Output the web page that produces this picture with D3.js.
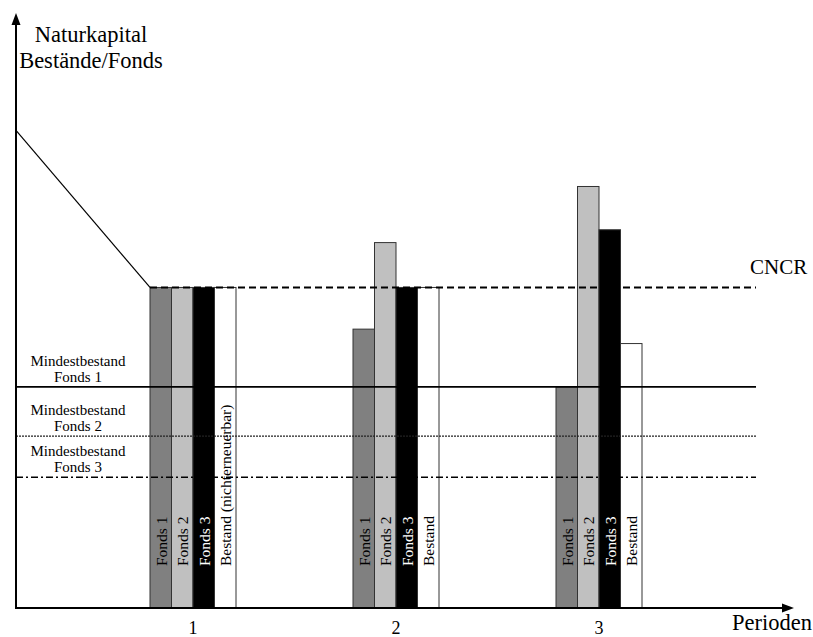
<!DOCTYPE html>
<html>
<head>
<meta charset="utf-8">
<script src="https://cdn.jsdelivr.net/npm/d3@7"></script>
<style>
  body { margin: 0; background: #fff; }
  text { font-family: "Liberation Serif", "Times New Roman", serif; }
</style>
</head>
<body>
<div id="chart"></div>
<script>
// Data (relative units, CNCR = 100)
const periods = [1, 2, 3];
const series = ["Fonds 1", "Fonds 2", "Fonds 3", "Bestand"];
const fonds1 = [100, 87, 69];
const fonds2 = [100, 114, 131.5];
const fonds3 = [100, 100, 118];
const bestand = [100, 100, 82.5];
const cncr = 100;
const startLevel = 149;
const minLabels = ["Fonds 1", "Fonds 2", "Fonds 3"];
const minLevels = [69, 53.6, 40.8];

const W = 813, H = 637;
const svg = d3.select("#chart").append("svg")
    .attr("width", W).attr("height", H);

const x0 = 16, base = 608;
const x = d3.scaleLinear().domain([0, 4]).range([-10, 802]);
const y = d3.scaleLinear().domain([0, 185]).range([base, 15]);
const sub = d3.scaleBand().domain(series).range([-43, 43]);
const lineEnd = 756;

const fills = { "Fonds 1": "#808080", "Fonds 2": "#c0c0c0", "Fonds 3": "#000000", "Bestand": "#ffffff" };
const textFill = { "Fonds 1": "#000", "Fonds 2": "#000", "Fonds 3": "#fff", "Bestand": "#000" };

const values = [fonds1, fonds2, fonds3, bestand];
const bars = [];
periods.forEach((p, i) => series.forEach((s, j) => bars.push({ p, s, v: values[j][i], i })));

// Bars
svg.selectAll(".bar").data(bars).join("rect")
    .attr("x", d => x(d.p) + sub(d.s))
    .attr("y", d => y(d.v))
    .attr("width", sub.bandwidth())
    .attr("height", d => base - y(d.v))
    .attr("fill", d => fills[d.s])
    .attr("stroke", "#333")
    .attr("stroke-width", 1);

// Reference lines
const styles = [
    { w: 1.6, dash: null, c: "#000" },
    { w: 1.2, dash: "2,1", c: "#222" },
    { w: 1.5, dash: "7,3,2,3", c: "#000" }
];
minLevels.forEach((m, k) => {
    svg.append("line")
        .attr("x1", x0).attr("x2", lineEnd)
        .attr("y1", y(m)).attr("y2", y(m))
        .attr("stroke", styles[k].c)
        .attr("stroke-width", styles[k].w)
        .attr("stroke-dasharray", styles[k].dash);
    const cy = y(m);
    svg.append("text").attr("x", 78).attr("y", cy - 21)
        .attr("text-anchor", "middle").attr("font-size", 15).text("Mindestbestand");
    svg.append("text").attr("x", 78).attr("y", cy - 5)
        .attr("text-anchor", "middle").attr("font-size", 15).text(minLabels[k]);
});

// CNCR
const p1left = x(periods[0]) + sub(series[0]);
svg.append("line")
    .attr("x1", p1left).attr("x2", lineEnd)
    .attr("y1", y(cncr)).attr("y2", y(cncr))
    .attr("stroke", "#000").attr("stroke-width", 2)
    .attr("stroke-dasharray", "7,4");
svg.append("text").attr("x", 750).attr("y", 274)
    .attr("font-size", 21).text("CNCR");

// Declining line
svg.append("line")
    .attr("x1", x0).attr("y1", y(startLevel))
    .attr("x2", p1left).attr("y2", y(cncr))
    .attr("stroke", "#000").attr("stroke-width", 1.2);

// Bar labels
svg.selectAll(".blabel").data(bars).join("text")
    .attr("transform", d => `translate(${x(d.p) + sub(d.s) + sub.bandwidth() / 2 + 6},${base - 42}) rotate(-90)`)
    .attr("font-size", 15.5)
    .attr("fill", d => textFill[d.s])
    .text(d => d.s === "Bestand" && d.i === 0 ? "Bestand (nichterneuerbar)" : d.s);

// Axes
svg.append("line").attr("x1", x0).attr("x2", 785).attr("y1", base).attr("y2", base)
    .attr("stroke", "#000").attr("stroke-width", 2);
svg.append("path").attr("d", `M794,${base} L782,${base - 4.5} L782,${base + 4.5} Z`).attr("fill", "#000");
svg.append("line").attr("x1", x0).attr("x2", x0).attr("y1", base + 1).attr("y2", 22)
    .attr("stroke", "#000").attr("stroke-width", 2);
svg.append("path").attr("d", `M${x0},13 L${x0 - 4.5},25 L${x0 + 4.5},25 Z`).attr("fill", "#000");

// Period tick labels
svg.selectAll(".plabel").data(periods).join("text")
    .attr("x", d => x(d)).attr("y", 634)
    .attr("text-anchor", "middle").attr("font-size", 18)
    .text(d => d);

// Axis titles
svg.append("text").attr("x", 91).attr("y", 42).attr("text-anchor", "middle")
    .attr("font-size", 22.5).text("Naturkapital");
svg.append("text").attr("x", 91).attr("y", 68).attr("text-anchor", "middle")
    .attr("font-size", 22.5).text("Bestände/Fonds");
svg.append("text").attr("x", 812).attr("y", 630).attr("text-anchor", "end")
    .attr("font-size", 22.5).text("Perioden");
</script>
</body>
</html>
